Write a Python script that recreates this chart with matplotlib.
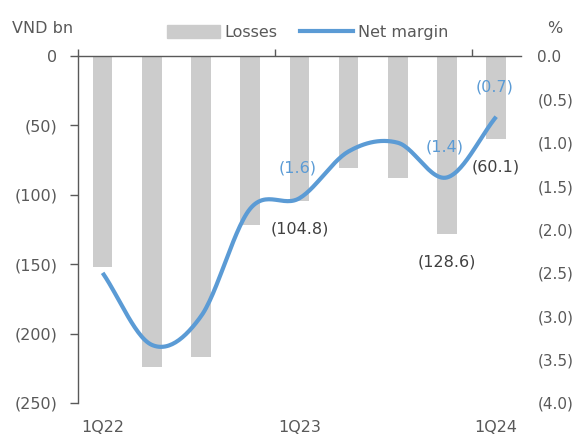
import matplotlib.pyplot as plt
import numpy as np
from matplotlib.lines import Line2D
from matplotlib.patches import Patch
from matplotlib.ticker import FuncFormatter

quarters = ['1Q22', '2Q22', '3Q22', '4Q22', '1Q23', '2Q23', '3Q23', '4Q23', '1Q24']
losses = [-152.0, -224.0, -217.0, -122.0, -104.8, -81.0, -88.0, -128.6, -60.1]
net_margin = [-2.50, -3.33, -3.00, -1.76, -1.64, -1.10, -1.00, -1.40, -0.70]
shown_tick_labels = ['1Q22', '1Q23', '1Q24']
loss_labels_at = [4, 7, 8]
margin_labels_at = [4, 7, 8]

BAR = '#cccccc'
LINE = '#5b9bd5'
TXT = '#595959'
LBL = '#404040'

plt.rcParams['font.family'] = ['DejaVu Sans']
plt.rcParams['font.size'] = 11.5


def paren(v, fmt):
    s = fmt.format(abs(v))
    return '(' + s + ')' if v < -1e-9 else s


def smooth(xs, ys, n=30):
    # cardinal spline through the points, like a smoothed line in a spreadsheet
    xs = np.asarray(xs, float)
    ys = np.asarray(ys, float)
    px = np.concatenate([[2 * xs[0] - xs[1]], xs, [2 * xs[-1] - xs[-2]]])
    py = np.concatenate([[2 * ys[0] - ys[1]], ys, [2 * ys[-1] - ys[-2]]])
    out_x, out_y = [], []
    t = np.linspace(0, 1, n)
    h00 = 2 * t**3 - 3 * t**2 + 1
    h10 = t**3 - 2 * t**2 + t
    h01 = -2 * t**3 + 3 * t**2
    h11 = t**3 - t**2
    for i in range(1, len(px) - 2):
        for p, out in ((px, out_x), (py, out_y)):
            p0, p1, p2, p3 = p[i - 1], p[i], p[i + 1], p[i + 2]
            m1 = (p2 - p0) / 2
            m2 = (p3 - p1) / 2
            out.extend(h00 * p1 + h10 * m1 + h01 * p2 + h11 * m2)
    return np.array(out_x), np.array(out_y)


fig = plt.figure(figsize=(5.75, 4.36), dpi=100)
ax = fig.add_axes([0.1357, 0.0757, 0.770, 0.7959])
x = np.arange(len(quarters))

ax.bar(x, losses, width=0.4, color=BAR, zorder=1)
ax.set_ylim(-250, 0)
ax.set_xlim(-0.5, len(quarters) - 0.5)
ax.set_yticks(np.arange(-250, 1, 50))
ax.yaxis.set_major_formatter(FuncFormatter(lambda v, p: paren(v, '{:.0f}')))

ax.set_xticks([0, 4, 8])
ax.set_xticklabels(shown_tick_labels)
ax.set_xticks([-0.5, 3.5, 7.5], minor=True)
ax.tick_params(axis='x', which='major', length=0, pad=12, colors=TXT, labelsize=11.5)
ax.tick_params(axis='x', which='minor', top=True, bottom=False, length=5,
               direction='out', color=TXT, width=1)
ax.tick_params(axis='y', length=6, width=1, pad=9, colors=TXT, labelsize=11.5)

for s in ('right', 'bottom'):
    ax.spines[s].set_visible(False)
for s in ('left', 'top'):
    ax.spines[s].set_color(TXT)
    ax.spines[s].set_linewidth(1)

for i in loss_labels_at:
    ax.annotate(paren(losses[i], '{:.1f}'), (x[i], losses[i]), xytext=(0, -28),
                textcoords='offset pixels', ha='center', va='center',
                color=LBL, fontsize=11.5)

ax2 = ax.twinx()
ax2.set_ylim(-4, 0)
ax2.set_yticks(np.arange(-4, 0.01, 0.5))
ax2.yaxis.set_major_formatter(FuncFormatter(lambda v, p: paren(v, '{:.1f}')))
ax2.tick_params(axis='y', length=0, pad=12, colors=TXT, labelsize=11)
for s in ax2.spines.values():
    s.set_visible(False)

sx, sy = smooth(x, net_margin)
ax2.plot(sx, sy, color=LINE, lw=3, solid_capstyle='butt', zorder=3)

for i in margin_labels_at:
    ax2.annotate(paren(net_margin[i], '{:.1f}'), (x[i], net_margin[i]), xytext=(-2, 30),
                 textcoords='offset pixels', ha='center', va='center',
                 color=LINE, fontsize=11.5)

fig.text(0.02, 0.935, 'VND bn', color=TXT, fontsize=11.5, va='center', ha='left')
fig.text(0.965, 0.935, '%', color=TXT, fontsize=11.5, va='center', ha='center')

handles = [Patch(color=BAR), Line2D([], [], color=LINE, lw=3)]
fig.legend(handles, ['Losses', 'Net margin'], loc='center', bbox_to_anchor=(0.535, 0.925),
           ncol=2, frameon=False, fontsize=11.5, handlelength=3.3, handleheight=0.9,
           handletextpad=0.3, columnspacing=1.4, labelcolor=TXT)

fig.savefig('out.png', dpi=100)
